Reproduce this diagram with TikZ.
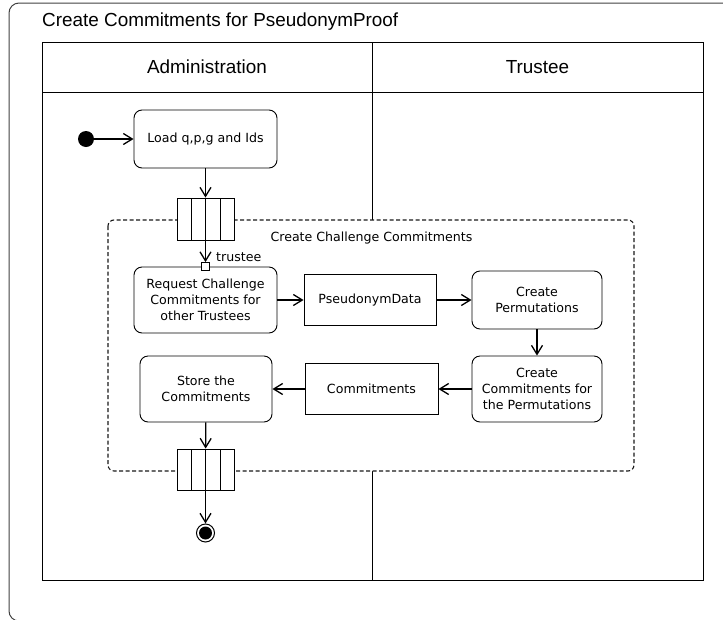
\documentclass[tikz,border=0pt]{standalone}
\usepackage{fontspec}
\setmainfont{Liberation Sans}
\newfontfamily\vfont{DejaVu Sans}
\usetikzlibrary{arrows.meta}
\begin{document}
\begin{tikzpicture}[x=1pt,y=-1pt,
  boxfont/.style={font=\vfont\fontsize{12.6}{16}\selectfont},
  action/.style={draw, line width=0.9pt, rounded corners=8pt, boxfont, align=center, inner sep=0pt},
  objbox/.style={draw, line width=0.9pt, boxfont, align=center, inner sep=0pt},
  flow/.style={line width=1.3pt, -{Straight Barb[length=9pt,width=11pt,line width=1.3pt]}},
  lane/.style={line width=1pt},
  exparea/.style={dashed, dash pattern=on 4pt off 2.5pt, line width=1.1pt, draw=black!90, fill=white, rounded corners=6pt},
  barcell/.style={line width=0.9pt, fill=white},
]
\useasboundingbox (0,0) rectangle (723,619);

% outer diagram frame
\draw[line width=1pt, draw=black!75, rounded corners=10pt] (9,3) rectangle (745,621);
\node[anchor=west, inner sep=0pt, font=\fontsize{18.9}{22}\selectfont] (title) at (42,22) {Create Commitments for PseudonymProof};

% swimlanes
\draw[lane] (42,42) rectangle (703,580);
\draw[lane] (42,92) -- (703,92);
\draw[lane] (372,42) -- (372,580);
\node[font=\fontsize{18.9}{22}\selectfont] (adminhead) at (207,67) {Administration};
\node[font=\fontsize{18.9}{22}\selectfont] (trusteehead) at (537.5,67) {Trustee};

% expansion region
\draw[exparea] (108,220) rectangle (634,471);
\node[boxfont] (regionlabel) at (371.5,238) {Create Challenge Commitments};

% initial node and first action
\node[circle, fill=black, minimum size=16pt, inner sep=0pt] (start) at (86,139) {};
\node[action, minimum width=143pt, minimum height=58pt] (load) at (205.5,139) {Load q,p,g and Ids};

% input expansion node
\node[draw, barcell, minimum width=57pt, minimum height=42pt, inner sep=0pt] (inbar) at (205.5,219) {};
\foreach \xx in {191,205.5,220} \draw[line width=0.9pt] (\xx,198) -- (\xx,240);

% actions and object nodes inside the region
\node[action, minimum width=143pt, minimum height=66pt] (req) at (205.5,300) {Request Challenge\\Commitments for\\other Trustees};
\node[draw, fill=white, line width=0.9pt, minimum size=8pt, inner sep=0pt] (pin) at (205.5,266.5) {};
\node[anchor=west, boxfont, inner sep=0pt] (pinlabel) at (216,257) {trustee};
\node[objbox, minimum width=132pt, minimum height=51pt] (pdata) at (370,300) {PseudonymData};
\node[action, minimum width=130pt, minimum height=58pt] (perm) at (537,300) {Create\\Permutations};
\node[action, minimum width=130pt, minimum height=66pt] (ccp) at (537,389) {Create\\Commitments for\\the Permutations};
\node[objbox, minimum width=133pt, minimum height=51pt] (comm) at (371.5,389) {Commitments};
\node[action, minimum width=132pt, minimum height=66pt] (store) at (206,389) {Store the\\Commitments};

% output expansion node
\node[draw, barcell, minimum width=57pt, minimum height=41pt, inner sep=0pt] (outbar) at (205.5,469.5) {};
\foreach \xx in {191,205.5,220} \draw[line width=0.9pt] (\xx,449) -- (\xx,490);

% final node
\node[circle, draw, line width=1pt, minimum size=18pt, inner sep=0pt] (final) at (205.5,533) {};
\fill (final.center) circle (6.5pt);

% control and object flows
\draw[flow] (start) -- (load);
\draw[flow] (load) -- (inbar);
\draw[flow] (inbar.south) -- (pin.north);
\draw[flow] (req) -- (pdata);
\draw[flow] (pdata) -- (perm);
\draw[flow] (perm) -- (ccp);
\draw[flow] (ccp) -- (comm);
\draw[flow] (comm) -- (store);
\draw[flow] (store) -- (outbar);
\draw[flow] (outbar) -- (final);
\end{tikzpicture}
\end{document}
